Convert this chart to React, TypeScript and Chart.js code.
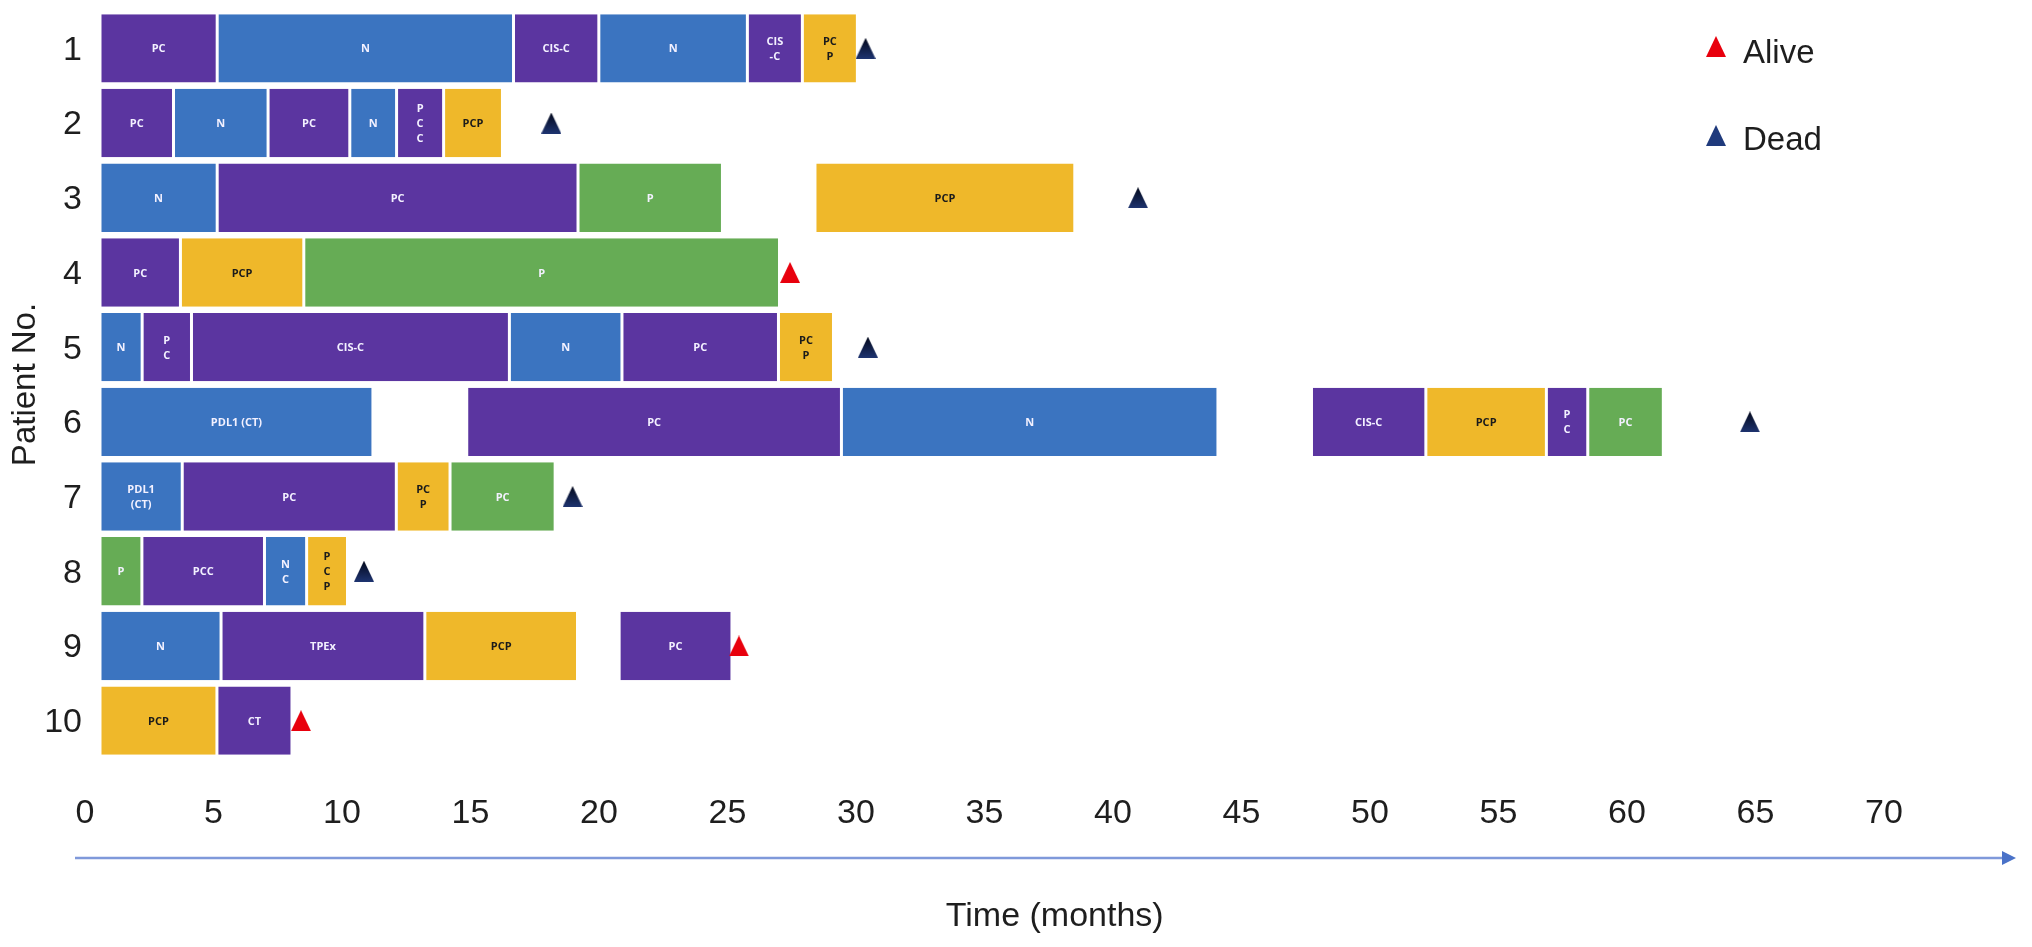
import React, { useEffect, useRef } from 'react';
import { Chart, registerables } from 'chart.js';

Chart.register(...registerables);

// ---------- data ----------
const patients = ['1', '2', '3', '4', '5', '6', '7', '8', '9', '10'];
const xTickStep = 5;
const xAxisMax = 74.3;

// [regimen label, regimen class, start month, end month]
type Seg = [string, string, number, number];

const patient1: Seg[] = [
  ['PC', 'chemo', 0, 4.56], ['N', 'immuno', 4.56, 16.09], ['CIS-C', 'chemo', 16.09, 19.41],
  ['N', 'immuno', 19.41, 25.19], ['CIS\n-C', 'chemo', 25.19, 27.33], ['PC\nP', 'triple', 27.33, 29.47],
];
const patient2: Seg[] = [
  ['PC', 'chemo', 0, 2.86], ['N', 'immuno', 2.86, 6.54], ['PC', 'chemo', 6.54, 9.72],
  ['N', 'immuno', 9.72, 11.54], ['P\nC\nC', 'chemo', 11.54, 13.37], ['PCP', 'triple', 13.37, 15.66],
];
const patient3: Seg[] = [
  ['N', 'immuno', 0, 4.56], ['PC', 'chemo', 4.56, 18.6], ['P', 'pembro', 18.6, 24.22],
  ['PCP', 'triple', 27.82, 37.93],
];
const patient4: Seg[] = [
  ['PC', 'chemo', 0, 3.13], ['PCP', 'triple', 3.13, 7.93], ['P', 'pembro', 7.93, 26.44],
];
const patient5: Seg[] = [
  ['N', 'immuno', 0, 1.64], ['P\nC', 'chemo', 1.64, 3.56], ['CIS-C', 'chemo', 3.56, 15.93],
  ['N', 'immuno', 15.93, 20.31], ['PC', 'chemo', 20.31, 26.4], ['PC\nP', 'triple', 26.4, 28.54],
];
const patient6: Seg[] = [
  ['PDL1 (CT)', 'immuno', 0, 10.62], ['PC', 'chemo', 14.27, 28.85], ['N', 'immuno', 28.85, 43.5],
  ['CIS-C', 'chemo', 47.14, 51.59], ['PCP', 'triple', 51.59, 56.28], ['P\nC', 'chemo', 56.28, 57.89],
  ['PC', 'pembro', 57.89, 60.83],
];
const patient7: Seg[] = [
  ['PDL1\n(CT)', 'immuno', 0, 3.2], ['PC', 'chemo', 3.2, 11.53], ['PC\nP', 'triple', 11.53, 13.62],
  ['PC', 'pembro', 13.62, 17.71],
];
const patient8: Seg[] = [
  ['P', 'pembro', 0, 1.63], ['PCC', 'chemo', 1.63, 6.4], ['N\nC', 'immuno', 6.4, 8.04],
  ['P\nC\nP', 'triple', 8.04, 9.63],
];
const patient9: Seg[] = [
  ['N', 'immuno', 0, 4.71], ['TPEx', 'chemo', 4.71, 12.64], ['PCP', 'triple', 12.64, 18.58],
  ['PC', 'chemo', 20.2, 24.59],
];
const patient10: Seg[] = [
  ['PCP', 'triple', 0, 4.55], ['CT', 'chemo', 4.55, 7.47],
];

const outcomeMonths = [29.79, 17.56, 40.39, 26.85, 29.88, 64.2, 18.39, 10.27, 24.86, 7.82];
const outcomeStatus = ['Dead', 'Dead', 'Dead', 'Alive', 'Dead', 'Dead', 'Dead', 'Dead', 'Alive', 'Alive'];

const legendLabels = ['Alive', 'Dead'];

// ---------- styles ----------
const classColors: Record<string, string> = {
  chemo: '#5b35a0',
  immuno: '#3b74c0',
  pembro: '#66ac55',
  triple: '#efb82a',
};
const FONT = '"Liberation Sans", Arial, Helvetica, sans-serif';
const TEXT = '#1e1e1e';

function makeTriangle(top: string, bottom: string, w = 20, h = 21): HTMLCanvasElement {
  const c = document.createElement('canvas');
  c.width = w;
  c.height = h;
  const g = c.getContext('2d')!;
  const grad = g.createLinearGradient(0, 0, 0, h);
  grad.addColorStop(0, top);
  grad.addColorStop(1, bottom);
  g.fillStyle = grad;
  g.beginPath();
  g.moveTo(w / 2, 0);
  g.lineTo(w, h);
  g.lineTo(0, h);
  g.closePath();
  g.fill();
  return c;
}

const segmentLabelPlugin = {
  id: 'segmentLabels',
  afterDatasetsDraw(chart: any) {
    const meta = chart.getDatasetMeta(0);
    const ds = chart.data.datasets[0];
    const ctx = chart.ctx;
    ctx.save();
    ctx.font = 'bold 11px "Open Sans", "Noto Sans", sans-serif';
    ctx.textAlign = 'center';
    ctx.textBaseline = 'middle';
    meta.data.forEach((el: any, i: number) => {
      const raw = ds.data[i];
      const { x, base, y } = el.getProps(['x', 'base', 'y'], true);
      const cx = (x + base) / 2;
      const lines = String(raw.label).split('\n');
      const lh = 15;
      ctx.fillStyle = raw.cls === 'triple' ? '#1b1b1b' : '#f3f1ff';
      lines.forEach((t: string, k: number) => {
        ctx.fillText(t, cx, y + 1 + (k - (lines.length - 1) / 2) * lh);
      });
    });
    ctx.restore();
  },
};

const timeArrowPlugin = {
  id: 'timeArrow',
  afterDraw(chart: any) {
    const { ctx, chartArea } = chart;
    const y = chartArea.bottom + 100;
    const x0 = chartArea.left - 25;
    const x1 = chart.width - 16;
    ctx.save();
    ctx.strokeStyle = '#7f99da';
    ctx.lineWidth = 2.5;
    ctx.beginPath();
    ctx.moveTo(x0, y);
    ctx.lineTo(x1 - 12, y);
    ctx.stroke();
    ctx.fillStyle = '#4a72c8';
    ctx.beginPath();
    ctx.moveTo(x1, y);
    ctx.lineTo(x1 - 14, y - 7);
    ctx.lineTo(x1 - 14, y + 7);
    ctx.closePath();
    ctx.fill();
    ctx.restore();
  },
};

export default function App() {
  const canvasRef = useRef<HTMLCanvasElement | null>(null);

  useEffect(() => {
    if (!canvasRef.current) return;
    const allPatients = [patient1, patient2, patient3, patient4, patient5, patient6, patient7, patient8, patient9, patient10];
    const barData = allPatients.flatMap((segs, r) =>
      segs.map(([label, cls, s, e]) => ({ y: patients[r], x: [s, e], label, cls }))
    );
    const pointsFor = (status: string) =>
      outcomeMonths
        .map((m, i) => ({ x: m, y: patients[i], status: outcomeStatus[i] }))
        .filter((p) => p.status === status);

    const aliveTri = makeTriangle('#e8000d', '#e8000d');
    const deadTri = makeTriangle('#03081a', '#1e3470');

    const chart = new Chart(canvasRef.current, {
      type: 'bar',
      data: {
        datasets: [
          {
            type: 'bar',
            label: 'Treatment',
            indexAxis: 'y',
            data: barData as any,
            backgroundColor: (c: any) => classColors[c.raw?.cls] || '#888',
            borderColor: '#ffffff',
            borderWidth: { left: 1.5, right: 1.5, top: 0, bottom: 0 },
            borderSkipped: false,
            barPercentage: 0.915,
            categoryPercentage: 1,
            order: 2,
          } as any,
          {
            type: 'scatter',
            label: legendLabels[0],
            data: pointsFor('Alive') as any,
            pointStyle: aliveTri,
            pointRadius: 10,
            order: 0,
          } as any,
          {
            type: 'scatter',
            label: legendLabels[1],
            data: pointsFor('Dead') as any,
            pointStyle: deadTri,
            pointRadius: 10,
            order: 0,
          } as any,
        ],
      },
      options: {
        indexAxis: 'y',
        responsive: false,
        animation: false,
        events: [],
        layout: { padding: { left: 0, right: 22.5, top: 9, bottom: 0 } },
        plugins: {
          legend: { display: false },
          tooltip: { enabled: false },
        },
        scales: {
          x: {
            type: 'linear',
            min: 0,
            max: xAxisMax,
            offset: false,
            grid: { display: false, drawTicks: false, offset: false },
            border: { display: false },
            ticks: {
              stepSize: xTickStep,
              includeBounds: false,
              autoSkip: false,
              maxRotation: 0,
              labelOffset: -15,
              padding: 35,
              color: TEXT,
              font: { family: FONT, size: 34 },
            },
            title: {
              display: true,
              text: 'Time (months)',
              color: TEXT,
              font: { family: FONT, size: 34 },
              padding: { top: 0, bottom: 9.6 },
            },
            afterFit: (scale: any) => {
              scale.height = 189;
              scale.paddingLeft = 0;
              scale.paddingRight = 0;
            },
          },
          y: {
            type: 'category',
            labels: patients,
            offset: true,
            grid: { display: false, drawTicks: false },
            border: { display: false },
            ticks: {
              padding: 18,
              labelOffset: 2,
              color: TEXT,
              font: { family: FONT, size: 34 },
            },
            title: {
              display: true,
              text: 'Patient No.',
              color: TEXT,
              font: { family: FONT, size: 33 },
              padding: { top: 6, bottom: 0 },
            },
            afterFit: (scale: any) => {
              scale.width = 100;
              scale.paddingTop = 0;
              scale.paddingBottom = 0;
            },
          },
        },
      } as any,
      plugins: [segmentLabelPlugin, timeArrowPlugin],
    });
    return () => chart.destroy();
  }, []);

  const triStyle = (color: string): React.CSSProperties => ({
    position: 'absolute',
    width: 0,
    height: 0,
    borderLeft: '10px solid transparent',
    borderRight: '10px solid transparent',
    borderBottom: `21px solid ${color}`,
  });
  const legendText: React.CSSProperties = {
    position: 'absolute',
    fontFamily: FONT,
    fontSize: 33,
    lineHeight: '33px',
    color: TEXT,
    whiteSpace: 'nowrap',
  };

  return (
    <div style={{ position: 'fixed', left: 0, top: 0, width: 2032, height: 947, background: '#ffffff' }}>
      <canvas ref={canvasRef} width={2032} height={947} style={{ display: 'block', width: 2032, height: 947 }} />
      <div style={{ ...triStyle('#e8000d'), left: 1706, top: 36 }} />
      <div style={{ ...legendText, left: 1743, top: 35 }}>{legendLabels[0]}</div>
      <div style={{ ...triStyle('#1f3a7c'), left: 1706, top: 125 }} />
      <div style={{ ...legendText, left: 1743, top: 122 }}>{legendLabels[1]}</div>
    </div>
  );
}
